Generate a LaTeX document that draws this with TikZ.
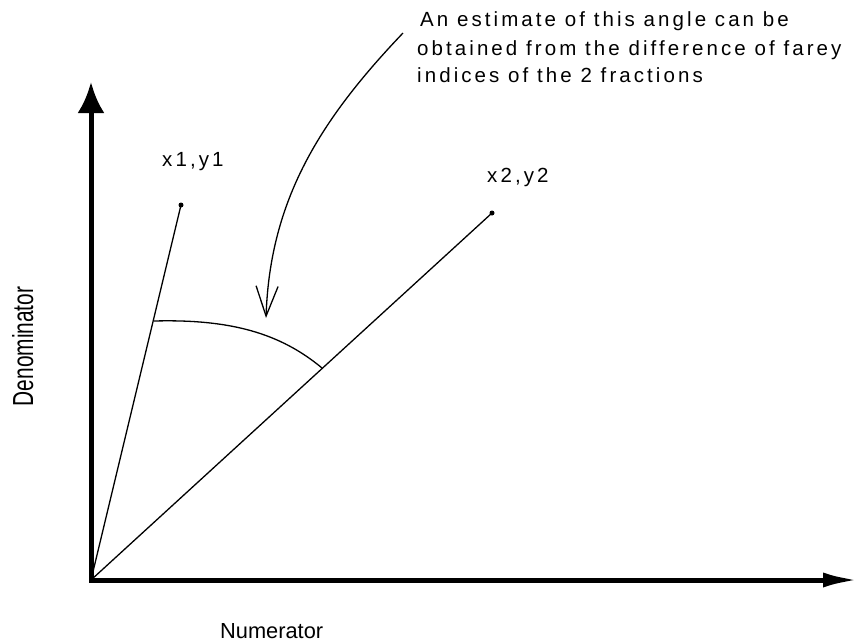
\documentclass[tikz,border=0pt]{standalone}
\usepackage{fontspec}
\setmainfont{Liberation Sans}
\newfontfamily\spaced[LetterSpace=15]{Liberation Sans}
\usetikzlibrary{arrows.meta}
\begin{document}
\begin{tikzpicture}[x=1pt,y=-1pt]
\tikzset{
  lab/.style={inner sep=0pt, anchor=base west, font=\spaced\fontsize{20.5}{27.5}\selectfont},
  axis/.style={line width=5pt, line join=miter},
  ray/.style={line width=1.3pt},
  pt/.style={circle, fill, inner sep=0pt, minimum size=5pt},
}
\useasboundingbox (0,0) rectangle (859,641);
% axes
\coordinate (O) at (91,580);
\coordinate (ytip) at (91,82);
\coordinate (xtip) at (859,580);
\draw[axis, {Latex[length=31pt,width=27pt]}-{Latex[length=36pt,width=15pt]}] (ytip) -- (O) -- (xtip);
% end points
\node[pt] (p1) at (181,205) {};
\node[pt] (p2) at (492,213) {};
\draw[ray] (O) -- (p1.center);
\draw[ray] (O) -- (p2.center);
% angle arc
\coordinate (a1) at (154,321);
\coordinate (a2) at (322,368);
\draw[ray] (a1) .. controls (230,319) and (280,333) .. (a2);
% labels
\node[lab] (l1) at (162,166) {x1,y1};
\node[lab] (l2) at (487,182) {x2,y2};
\node[lab] (n1) at (420,26.7) {An estimate of this angle can be};
\node[lab] (n2) at (417,55) {obtained from the difference of farey};
\node[lab] (n3) at (417,82) {indices of the 2 fractions};
% curved pointer
\coordinate (cs) at (403,33);
\coordinate (ce) at (266,318);
\draw[ray, -{Straight Barb[length=30pt,width=22pt]}] (cs) .. controls (320,120) and (270,200) .. (ce);
% axis titles
\node[inner sep=0pt, anchor=base, rotate=90, font=\fontsize{29}{29}\selectfont] (den) at (33,346.5) {\scalebox{0.72}[1]{Denominator}};
\node[inner sep=0pt, anchor=base west, font=\fontsize{21.8}{22}\selectfont] (num) at (220,638) {Numerator};
\end{tikzpicture}
\end{document}
